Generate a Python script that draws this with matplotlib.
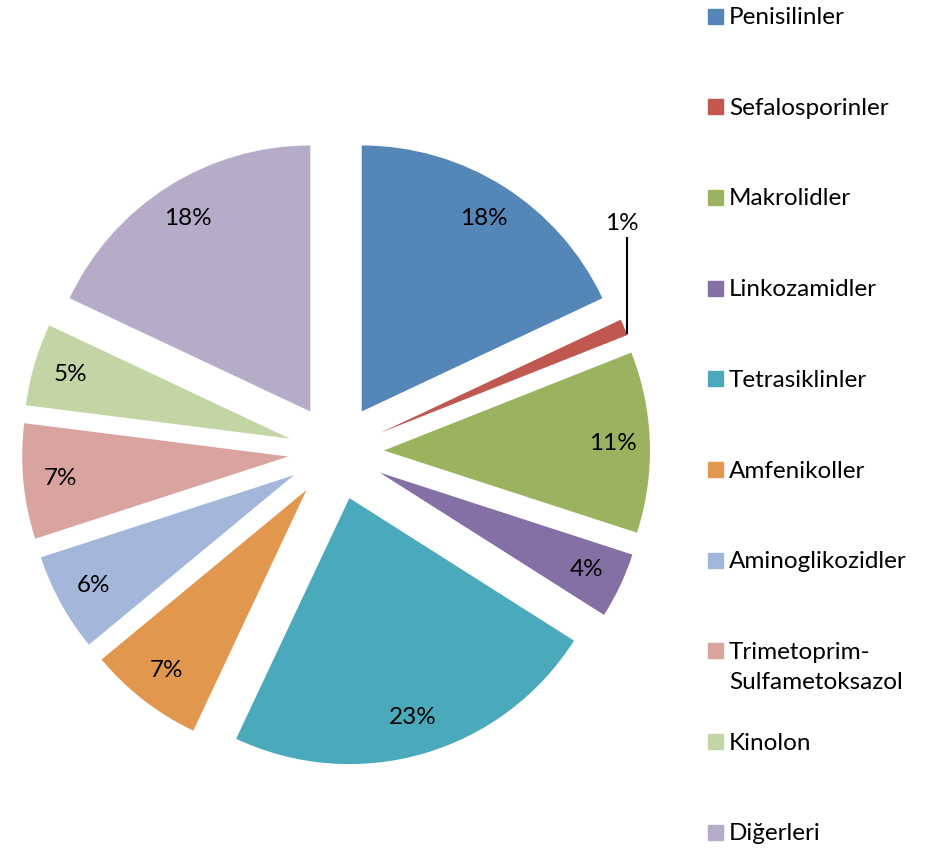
import matplotlib
matplotlib.use("Agg")
import matplotlib.pyplot as plt
from matplotlib.patches import Rectangle
import numpy as np

plt.rcParams['font.family'] = ['Lato', 'DejaVu Sans']

# Data
categories = [
    "Penisilinler",
    "Sefalosporinler",
    "Makrolidler",
    "Linkozamidler",
    "Tetrasiklinler",
    "Amfenikoller",
    "Aminoglikozidler",
    "Trimetoprim-\nSulfametoksazol",
    "Kinolon",
    "Diğerleri",
]
shares = [18, 1, 11, 4, 23, 7, 6, 7, 5, 18]
colors = [
    "#5586B8", "#C0584F", "#9BB35F", "#8570A5", "#4BA9BC",
    "#E2974F", "#A3B7DA", "#D9A3A0", "#C4D5A5", "#B6ABC9",
]

fig = plt.figure(figsize=(9.32, 8.51), dpi=100)
ax = fig.add_axes([0, 0, 1, 1])

def pct_label(p):
    # small slice gets an outside label with a leader line
    return "" if p < 2 else f"{p:.0f}%"

radius = 266
wedges, texts, autotexts = ax.pie(
    shares,
    colors=colors,
    explode=[48] * len(shares),
    startangle=90,
    counterclock=False,
    radius=radius,
    center=(336, 399),
    autopct=pct_label,
    pctdistance=0.86,
    textprops={"fontsize": 17.5, "color": "black"},
)

ax.set_xlim(0, 932)
ax.set_ylim(0, 851)
ax.axis("off")

# leader line for the 1% slice
w = wedges[1]
ang = np.deg2rad(w.theta1 + 0.1 * (w.theta2 - w.theta1))
x0 = w.center[0] + w.r * np.cos(ang)
y0 = w.center[1] + w.r * np.sin(ang)
ax.plot([x0, x0], [y0, y0 + 95], color="black", lw=1.5)
ax.text(x0 - 5, y0 + 103, f"{shares[1]}%", fontsize=17.5,
        ha="center", va="baseline")

# legend on the right
for i, (name, col) in enumerate(zip(categories, colors)):
    yc = 851 - (16 + i * 90.7)
    ax.add_patch(Rectangle((708, yc - 7.5), 15, 15, color=col))
    ax.text(729, yc + 9, name, fontsize=17.5, ha="left", va="top",
            linespacing=1.55)

fig.savefig("out.png", dpi=100)
